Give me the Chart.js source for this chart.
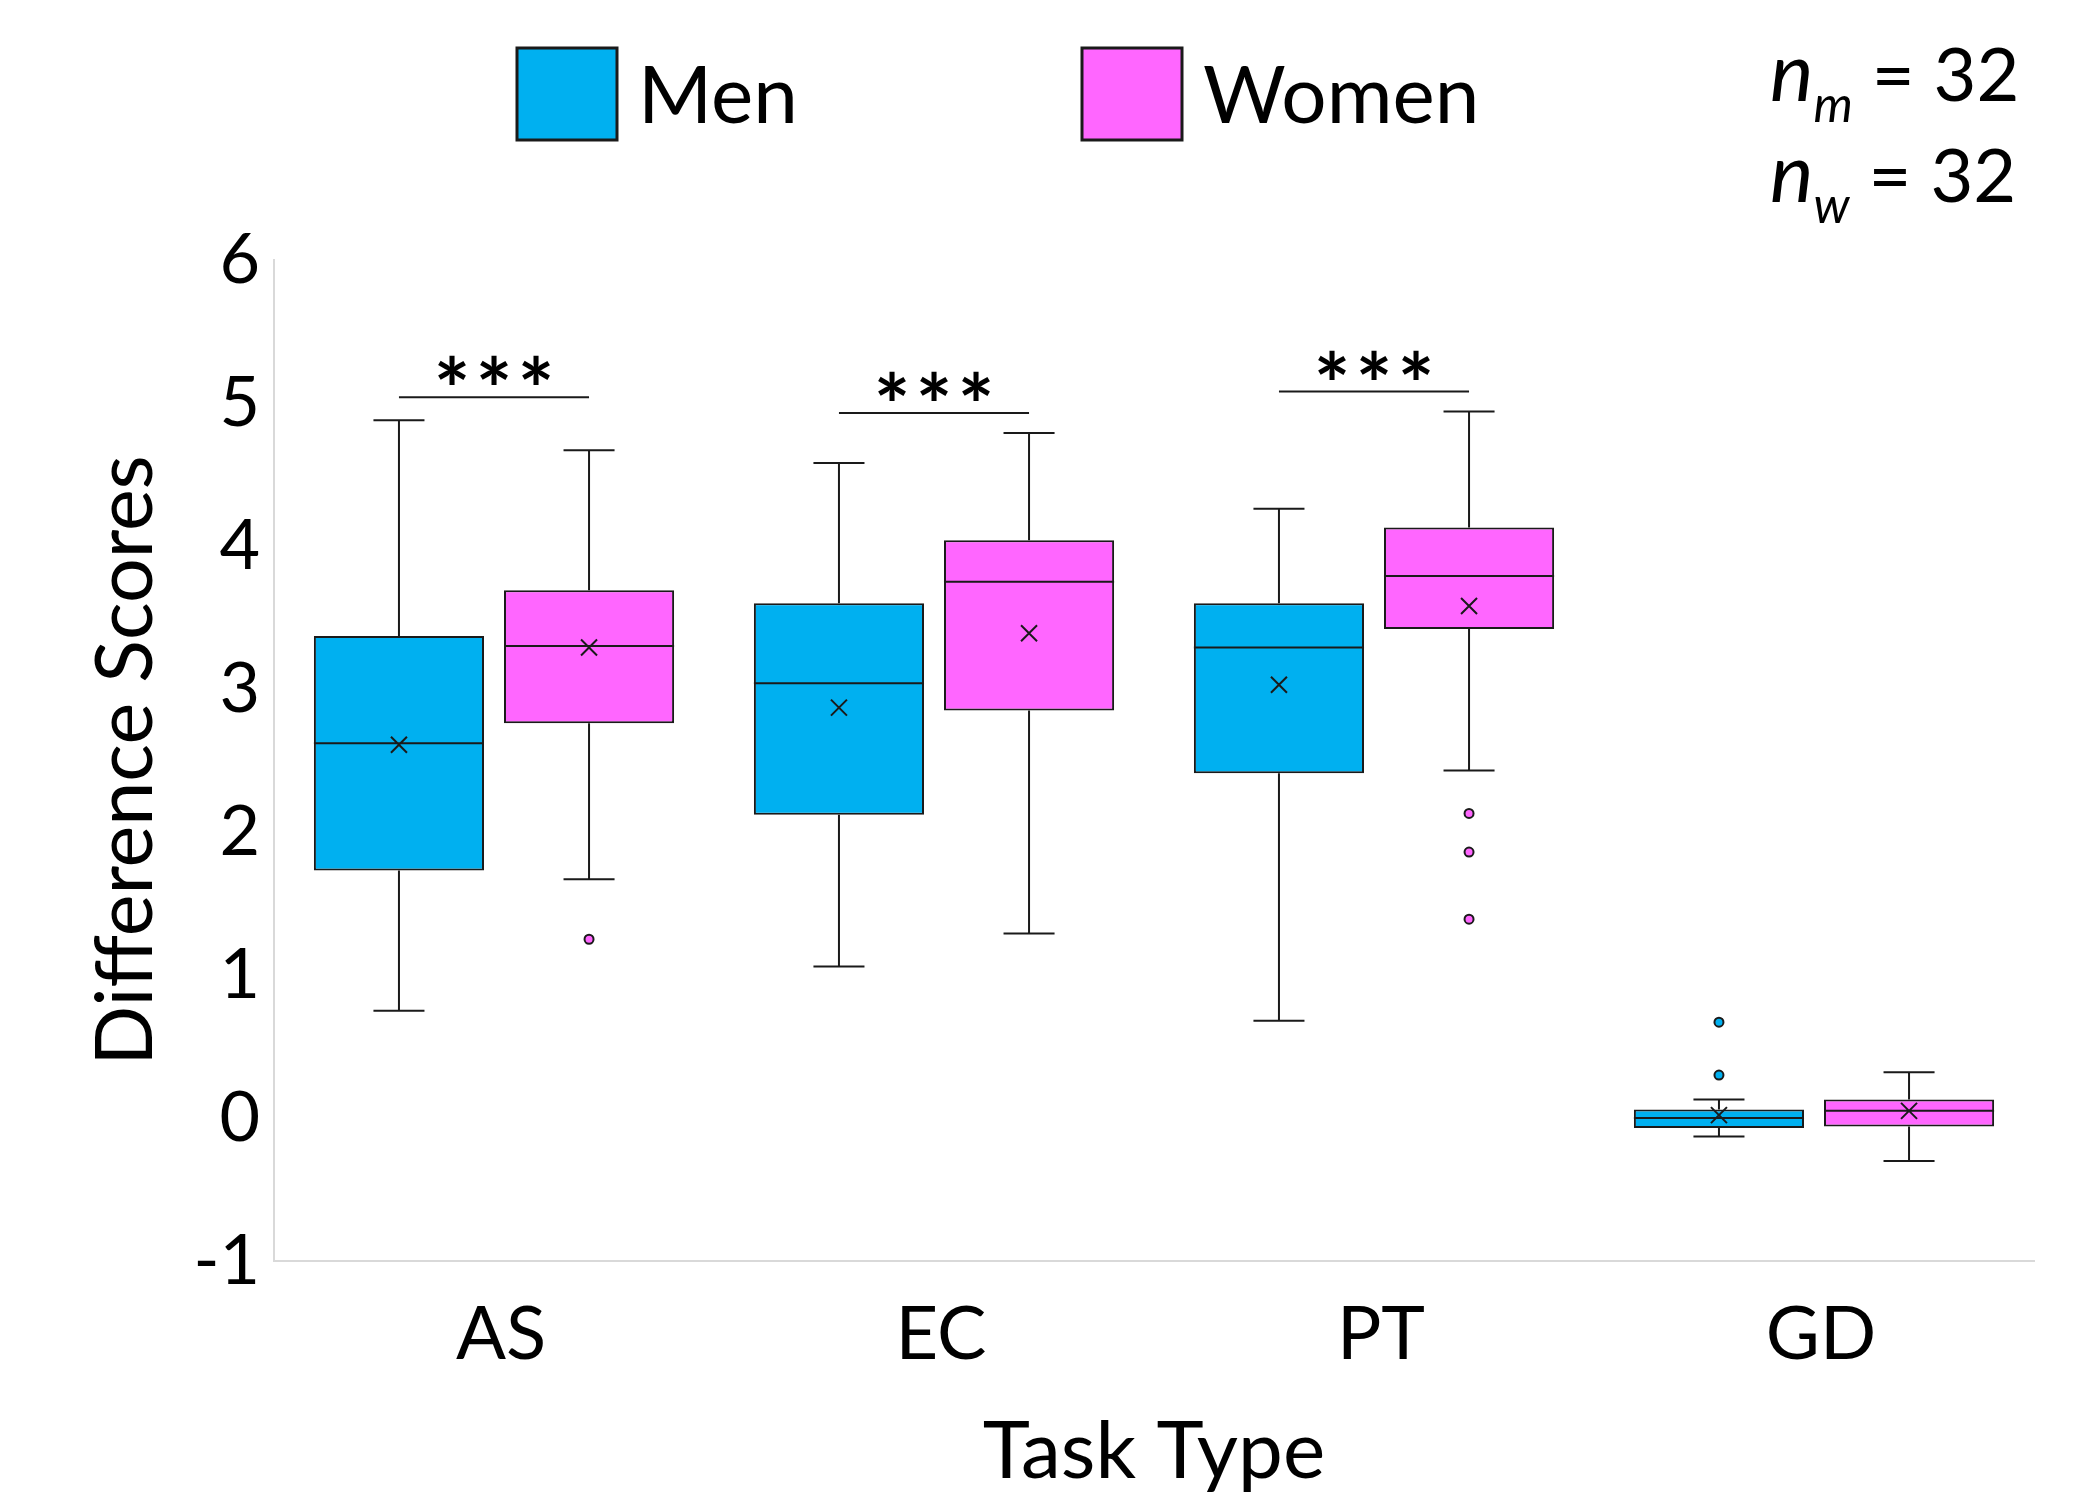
<!DOCTYPE html>
<html>
<head>
<meta charset="utf-8">
<script src="https://cdn.jsdelivr.net/npm/chart.js@4.4.1/dist/chart.umd.min.js"></script>
<style>
  html, body { margin: 0; padding: 0; background: #fff; }
  #wrap { width: 2094px; height: 1494px; position: relative; }
</style>
</head>
<body>
<div id="wrap"><canvas id="boxChart"></canvas></div>
<script>
/* box plot: difference scores by task type */

const categories = ['AS', 'EC', 'PT', 'GD'];

// men
const menMin      = [0.75, 1.06, 0.68, -0.13];
const menQ1       = [1.73, 2.12, 2.41, -0.07];
const menMedian   = [2.62, 3.04, 3.29, 0.00];
const menQ3       = [3.37, 3.60, 3.60, 0.06];
const menMax      = [4.88, 4.58, 4.26, 0.13];
const menMean     = [2.61, 2.87, 3.03, 0.02];
const menOutliers = [[], [], [], [0.67, 0.30]];

// women
const womenMin      = [1.67, 1.29, 2.43, -0.30];
const womenQ1       = [2.76, 2.85, 3.42, -0.06];
const womenMedian   = [3.30, 3.75, 3.79, 0.05];
const womenQ3       = [3.69, 4.04, 4.13, 0.13];
const womenMax      = [4.67, 4.79, 4.94, 0.32];
const womenMean     = [3.29, 3.39, 3.58, 0.05];
const womenOutliers = [[1.25], [], [2.13, 1.86, 1.39], []];

// significance brackets
const sigLabels = ['***', '***', '***', ''];
const sigLevel  = [5.04, 4.93, 5.08, null];

// sample sizes
const sampleNames = ['m', 'w'];
const sampleSizes = [32, 32];

const yMin = -1;
const yMax = 6;

const FONT = "Lato, 'Open Sans', sans-serif";
const INK = '#1a1a1a';

const boxPlotPlugin = {
  id: 'boxPlot',
  afterDatasetsDraw(chart) {
    const { ctx, scales: { y } } = chart;
    ctx.save();
    ctx.strokeStyle = INK;
    ctx.lineWidth = 2;
    chart.data.datasets.forEach((ds, di) => {
      const meta = chart.getDatasetMeta(di);
      const s = ds.stats;
      meta.data.forEach((bar, i) => {
        const x = bar.x;
        const half = bar.width / 2;
        const cap = bar.width * 0.15;
        const pMin = y.getPixelForValue(s.min[i]);
        const pMax = y.getPixelForValue(s.max[i]);
        const pQ1 = y.getPixelForValue(ds.data[i][0]);
        const pQ3 = y.getPixelForValue(ds.data[i][1]);
        const pMed = y.getPixelForValue(s.median[i]);
        const pMean = y.getPixelForValue(s.mean[i]);

        ctx.beginPath();
        // whiskers
        ctx.moveTo(x, pQ3); ctx.lineTo(x, pMax);
        ctx.moveTo(x - cap, pMax); ctx.lineTo(x + cap, pMax);
        ctx.moveTo(x, pQ1); ctx.lineTo(x, pMin);
        ctx.moveTo(x - cap, pMin); ctx.lineTo(x + cap, pMin);
        // median
        ctx.moveTo(x - half, pMed); ctx.lineTo(x + half, pMed);
        // mean (x mark)
        const m = 8;
        ctx.moveTo(x - m, pMean - m); ctx.lineTo(x + m, pMean + m);
        ctx.moveTo(x - m, pMean + m); ctx.lineTo(x + m, pMean - m);
        ctx.stroke();

        // outliers
        s.outliers[i].forEach(v => {
          ctx.beginPath();
          ctx.arc(x, y.getPixelForValue(v), 4.5, 0, Math.PI * 2);
          ctx.fillStyle = ds.backgroundColor;
          ctx.fill();
          ctx.stroke();
        });
      });
    });

    // significance bars
    const men = chart.getDatasetMeta(0).data;
    const women = chart.getDatasetMeta(1).data;
    ctx.font = `bold 86px ${FONT}`;
    ctx.fillStyle = '#000';
    ctx.textAlign = 'center';
    ctx.textBaseline = 'alphabetic';
    sigLabels.forEach((lab, i) => {
      if (!lab) return;
      const ly = y.getPixelForValue(sigLevel[i]);
      ctx.beginPath();
      ctx.moveTo(men[i].x, ly);
      ctx.lineTo(women[i].x, ly);
      ctx.stroke();
      const mt = ctx.measureText('*');
      const mid = (mt.actualBoundingBoxAscent - mt.actualBoundingBoxDescent) / 2;
      const cx = (men[i].x + women[i].x) / 2;
      const pitch = 42;
      [...lab].forEach((ch, k) => {
        ctx.fillText(ch, cx + (k - (lab.length - 1) / 2) * pitch, ly - 27 + mid);
      });
    });
    ctx.restore();
  },
  afterDraw(chart) {
    const { ctx } = chart;
    ctx.save();
    // legend
    const legendX = [517, 1082];
    ctx.font = `80px ${FONT}`;
    ctx.textBaseline = 'alphabetic';
    ctx.textAlign = 'left';
    chart.data.datasets.forEach((ds, i) => {
      ctx.fillStyle = ds.backgroundColor;
      ctx.fillRect(legendX[i], 48, 100, 92);
      ctx.strokeStyle = INK;
      ctx.lineWidth = 3;
      ctx.strokeRect(legendX[i], 48, 100, 92);
      ctx.fillStyle = '#000';
      ctx.fillText(ds.label, legendX[i] + 121, 123);
    });

    // sample sizes
    sampleNames.forEach((nm, i) => {
      const base = 101 + i * 101;
      let x = 1770;
      ctx.font = `italic 82px ${FONT}`;
      ctx.fillText('n', x, base);
      x += ctx.measureText('n').width;
      ctx.font = `italic 50px ${FONT}`;
      ctx.fillText(nm, x, base + 21);
      x += ctx.measureText(nm).width;
      ctx.font = `74px ${FONT}`;
      ctx.fillText(' = ' + sampleSizes[i], x, base);
    });
    ctx.restore();
  }
};

const ctx = document.getElementById('boxChart').getContext('2d');
new Chart(ctx, {
  type: 'bar',
  data: {
    labels: categories,
    datasets: [
      {
        label: 'Men',
        data: menQ1.map((q, i) => [q, menQ3[i]]),
        backgroundColor: '#00B0F0',
        borderColor: INK,
        borderWidth: 2,
        borderSkipped: false,
        stats: { min: menMin, median: menMedian, max: menMax, mean: menMean, outliers: menOutliers }
      },
      {
        label: 'Women',
        data: womenQ1.map((q, i) => [q, womenQ3[i]]),
        backgroundColor: '#FF66FF',
        borderColor: INK,
        borderWidth: 2,
        borderSkipped: false,
        stats: { min: womenMin, median: womenMedian, max: womenMax, mean: womenMean, outliers: womenOutliers }
      }
    ]
  },
  options: {
    responsive: true,
    maintainAspectRatio: false,
    animation: false,
    categoryPercentage: 0.864,
    barPercentage: 0.895,
    layout: { padding: { top: 260, right: 60, left: 0, bottom: 0 } },
    plugins: {
      legend: { display: false },
      tooltip: { enabled: false }
    },
    scales: {
      x: {
        grid: { display: false, drawTicks: false },
        border: { color: '#d9d9d9', width: 2 },
        ticks: { color: '#000', padding: 30, labelOffset: 7, font: { family: FONT, size: 74 } },
        title: {
          display: true,
          text: 'Task Type',
          color: '#000',
          font: { family: FONT, size: 80, lineHeight: 1 },
          padding: { top: 0, bottom: 2 }
        },
        afterFit: s => { s.height = 233; }
      },
      y: {
        min: yMin,
        max: yMax,
        grid: { display: false, drawTicks: false },
        border: { color: '#d9d9d9', width: 2 },
        ticks: { stepSize: 1, color: '#000', padding: 14, font: { family: FONT, size: 70 } },
        title: {
          display: true,
          text: 'Difference Scores',
          color: '#000',
          font: { family: FONT, size: 79, lineHeight: 1 },
          padding: { top: 87, bottom: 0 }
        },
        afterFit: s => { s.width = 274; }
      }
    }
  },
  plugins: [boxPlotPlugin]
});
</script>
</body>
</html>
